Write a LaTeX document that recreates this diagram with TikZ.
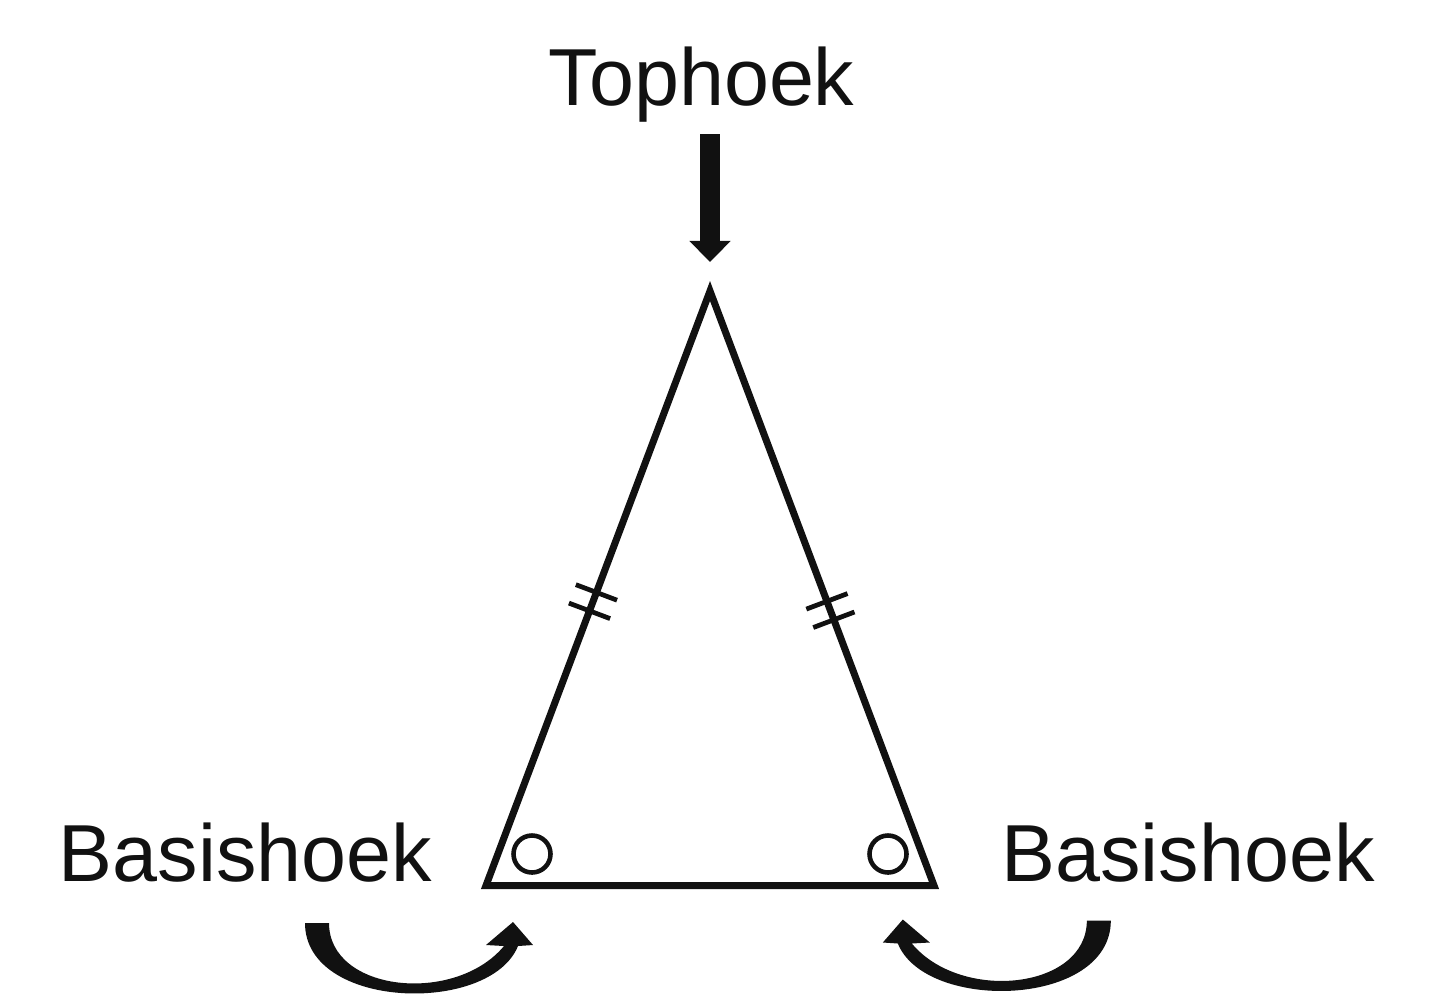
\documentclass[tikz,border=0pt]{standalone}
\usepackage{fontspec}
\setmainfont{Liberation Sans}
\definecolor{tkInk}{HTML}{111111}
\usetikzlibrary{calc,arrows.meta}

\tikzset{
  hoeklabel/.style={anchor=base, font=\fontsize{23}{27}\selectfont, text=tkInk, inner sep=0pt},
  zijde/.style={tkInk, line width=2pt, line join=miter},
  streepje/.style={tkInk, line width=1.35pt},
  hoekje/.style={tkInk, line width=1.3pt},
}

\begin{document}
\begin{tikzpicture}[x=0.01cm, y=-0.01cm]
  \useasboundingbox (0,0) rectangle (1434,1003);
  % corners of the triangle
  \coordinate (apex) at (710,291);
  \coordinate (bl) at (486,885.5);
  \coordinate (br) at (934,885.5);
  \draw[zijde] (apex) -- (bl) -- (br) -- cycle;
  % labels
  \node[hoeklabel] (top) at (701.5,105) {Tophoek};
  \node[hoeklabel] (basisL) at (245.5,881.5) {Basishoek};
  \node[hoeklabel] (basisR) at (1188,881) {Basishoek};
  % arrow down to the apex
  \draw[tkInk, line width=2mm, -{Triangle[width=4mm,length=2.1mm]},
        shorten <=1.2mm, shorten >=2.9mm] (top.south -| apex) -- (apex);
  % equal legs
  \path (apex) -- (bl) coordinate[pos=0.507] (tl1) coordinate[pos=0.538] (tl2);
  \path (apex) -- (br) coordinate[pos=0.522] (tr1) coordinate[pos=0.553] (tr2);
  \foreach \c/\e in {tl1/bl, tl2/bl, tr1/br, tr2/br}
    \draw[streepje] ($(\c)!2.2mm!90:(\e)$) -- ($(\c)!2.2mm!-90:(\e)$);
  % base angles
  \draw[hoekje] (532,854) circle[radius=1.85mm];
  \draw[hoekje] (888,854) circle[radius=1.85mm];
  % curved arrows under the base
  \foreach \sx/\dx/\dy in {1/0/0, -1/14.15/0.025} {
    \begin{scope}[xshift=\dx cm, yshift=\dy cm, xscale=\sx]
      \fill[tkInk] (305,923) .. controls (305,1010) and (490,1015) .. (518,946)
        -- (533,945) -- (513,922) -- (486,945) -- (504,946)
        .. controls (455,1005) and (329,992) .. (329,923) -- cycle;
    \end{scope}
  }
\end{tikzpicture}
\end{document}
